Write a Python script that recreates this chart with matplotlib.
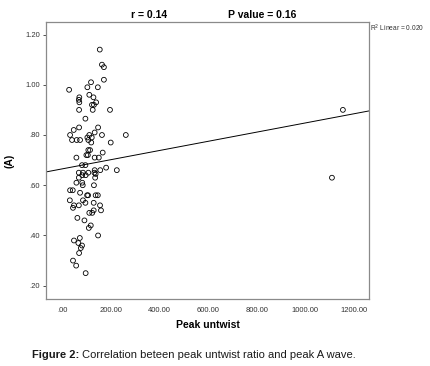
import matplotlib
matplotlib.use("Agg")
import matplotlib.pyplot as plt

plt.rcParams['font.family'] = ['Liberation Sans', 'DejaVu Sans']

# Peak untwist vs peak A wave
peak_untwist = [155, 164, 172, 172, 119, 147, 104, 29, 71, 112, 129, 69, 140, 71,
                123, 131, 126, 70, 197, 96, 1154, 70, 48, 148, 33, 41, 60, 74,
                112, 134, 164, 262, 104, 122, 108, 120, 200, 108, 115, 167, 59, 100,
                106, 134, 151, 82, 96, 181, 225, 134, 157, 69, 86, 97, 108, 133,
                138, 136, 69, 83, 59, 83, 85, 131, 33, 44, 74, 103, 107, 138,
                147, 32, 86, 96, 130, 49, 69, 45, 156, 160, 130, 124, 112, 63,
                92, 118, 110, 148, 49, 73, 67, 82, 77, 70, 45, 58, 97, 1109]
peak_a = [1.14, 1.08, 1.07, 1.02, 1.01, 0.99, 0.99, 0.98, 0.95, 0.96, 0.95, 0.94, 0.93, 0.93,
          0.92, 0.92, 0.90, 0.90, 0.90, 0.865, 0.90, 0.83, 0.82, 0.83, 0.80, 0.78, 0.78, 0.78,
          0.80, 0.81, 0.80, 0.80, 0.79, 0.79, 0.78, 0.77, 0.77, 0.74, 0.74, 0.73, 0.71, 0.72,
          0.72, 0.71, 0.71, 0.68, 0.68, 0.67, 0.66, 0.66, 0.66, 0.65, 0.65, 0.64, 0.65, 0.65,
          0.645, 0.63, 0.63, 0.64, 0.61, 0.61, 0.60, 0.60, 0.58, 0.58, 0.57, 0.56, 0.56, 0.56,
          0.56, 0.54, 0.54, 0.53, 0.53, 0.52, 0.52, 0.51, 0.52, 0.50, 0.50, 0.49, 0.49, 0.47,
          0.46, 0.44, 0.43, 0.40, 0.38, 0.39, 0.37, 0.36, 0.35, 0.33, 0.30, 0.28, 0.25, 0.63]

# linear fit as drawn in the original
fit_intercept = 0.665
fit_slope = 0.000183

x_ticks = [0, 200, 400, 600, 800, 1000, 1200]
x_tick_labels = ['.00', '200.00', '400.00', '600.00', '800.00', '1000.00', '1200.00']
y_ticks = [0.2, 0.4, 0.6, 0.8, 1.0, 1.2]
y_tick_labels = ['.20', '.40', '.60', '.80', '1.00', '1.20']

fig = plt.figure(figsize=(4.31, 3.66), dpi=100)
ax = fig.add_axes([0.1067, 0.183, 0.7493, 0.757])

ax.scatter(peak_untwist, peak_a, s=12, facecolors='none', edgecolors='black', linewidths=0.6, zorder=3)

xmin, xmax = -66, 1261
ax.plot([xmin, xmax], [fit_intercept + fit_slope * xmin, fit_intercept + fit_slope * xmax],
        color='black', linewidth=0.7)

ax.set_xlim(xmin, xmax)
ax.set_ylim(0.147, 1.25)
ax.set_xticks(x_ticks)
ax.set_xticklabels(x_tick_labels)
ax.set_yticks(y_ticks)
ax.set_yticklabels(y_tick_labels)
ax.tick_params(labelsize=5.5, colors='#333333', length=2.5, width=0.6, pad=2)
ax.tick_params(axis='x', length=0, pad=6)
for s in ax.spines.values():
    s.set_color('#8a8a8a')
    s.set_linewidth(0.9)

ax.set_xlabel('Peak untwist', fontsize=7.5, fontweight='bold', labelpad=4)
ax.set_ylabel('(A)', fontsize=7.5, fontweight='bold')
ax.yaxis.set_label_coords(-0.096, 0.5)

fig.text(149 / 431, 1 - 15 / 366, 'r = 0.14', ha='center', va='center', fontsize=7.5, fontweight='bold')
fig.text(262 / 431, 1 - 15 / 366, 'P value = 0.16', ha='center', va='center', fontsize=7.5, fontweight='bold')
fig.text(370 / 431, 1 - 28 / 366, 'R$^2$ Linear = 0.020', ha='left', va='center', fontsize=4.8, color='#333333')

# caption: bold label followed by plain text
cap_y = 1 - 355 / 366
t1 = fig.text(32 / 431, cap_y, 'Figure 2:', ha='left', va='center', fontsize=8, fontweight='bold', color='#1a1a1a')
fig.canvas.draw()
bb = t1.get_window_extent()
fig.text(bb.x1 / fig.bbox.width + 0.006, cap_y,
         'Correlation beteen peak untwist ratio and peak A wave.',
         ha='left', va='center', fontsize=8, color='#1a1a1a')

fig.savefig('out.png', dpi=100)
